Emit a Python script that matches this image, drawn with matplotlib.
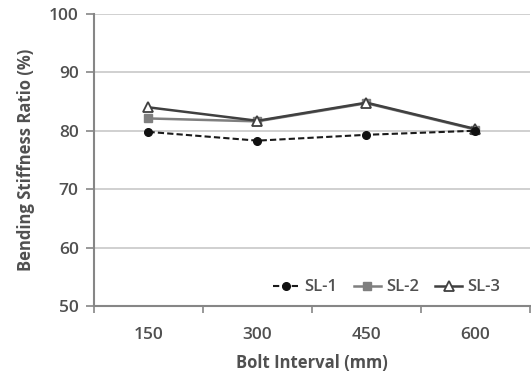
import matplotlib.pyplot as plt
from matplotlib.lines import Line2D

plt.rcParams['font.family'] = ['Open Sans', 'DejaVu Sans']

# Daten
intervals = ["150", "300", "450", "600"]
sl1 = [79.8, 78.3, 79.3, 80.0]
sl2 = [82.1, 81.6, 84.7, 80.2]
sl3 = [84.0, 81.7, 84.8, 80.3]

axis_col = "#868686"
grid_col = "#c8c8c8"
txt_col = "#505050"

fig = plt.figure(figsize=(5.31, 3.84), dpi=100)
ax = fig.add_axes([0.177, 0.203, 0.821, 0.761])

x = list(range(len(intervals)))
ax.plot(x, sl2, color="#7f7f7f", lw=1.8, marker="s", ms=5.5,
        mfc="#7f7f7f", mec="#7f7f7f", label="SL-2", zorder=3)
ax.plot(x, sl3, color="#404040", lw=1.8, marker="^", ms=6.5,
        mfc="white", mec="#404040", mew=1.3, label="SL-3", zorder=4)
ax.plot(x, sl1, color="#1a1a1a", lw=1.5, ls=(0, (3, 1.5)), marker="o", ms=5.5,
        mfc="#111111", mec="#111111", label="SL-1", zorder=5)

ax.set_ylim(50, 100)
ax.set_xlim(-0.5, len(intervals) - 0.5)
ax.set_yticks([50, 60, 70, 80, 90, 100])
ax.set_xticks(x)
ax.set_xticklabels(intervals)
ax.set_xticks([i - 0.5 for i in range(len(intervals) + 1)], minor=True)

ax.grid(axis="y", color=grid_col, lw=1.2)
ax.set_axisbelow(True)
for s in ["top", "right"]:
    ax.spines[s].set_visible(False)
for s in ["left", "bottom"]:
    ax.spines[s].set_color(axis_col)
    ax.spines[s].set_linewidth(1.5)

ax.tick_params(axis="y", length=6, width=1.2, color=axis_col,
               labelsize=12.5, labelcolor=txt_col, pad=5)
ax.tick_params(axis="x", which="major", length=0, labelsize=12.5,
               labelcolor=txt_col, pad=15)
ax.tick_params(axis="x", which="minor", length=5, width=1.2, color=axis_col)
for lab in ax.get_xticklabels() + ax.get_yticklabels():
    lab.set_fontweight("semibold")

ax.set_xlabel("Bolt Interval (mm)", fontsize=12, fontweight="bold",
              color=txt_col, labelpad=8)
ax.set_ylabel("Bending Stiffness Ratio (%)", fontsize=12, fontweight="bold",
              color=txt_col, labelpad=10)

handles = [
    Line2D([], [], color="#1a1a1a", lw=1.5, ls=(0, (3, 1.5)), marker="o", ms=5.5,
           mfc="#111111", mec="#111111"),
    Line2D([], [], color="#7f7f7f", lw=1.8, marker="s", ms=5.5,
           mfc="#7f7f7f", mec="#7f7f7f"),
    Line2D([], [], color="#404040", lw=1.8, marker="^", ms=6.5,
           mfc="white", mec="#404040", mew=1.3),
]
leg = ax.legend(handles, ["SL-1", "SL-2", "SL-3"], ncol=3, frameon=False,
                loc="lower right", bbox_to_anchor=(0.966, -0.015),
                fontsize=12, handlelength=1.6, columnspacing=1.0,
                handletextpad=0.3)
for t in leg.get_texts():
    t.set_color(txt_col)
    t.set_fontweight("semibold")

fig.savefig("out.png", dpi=100)
